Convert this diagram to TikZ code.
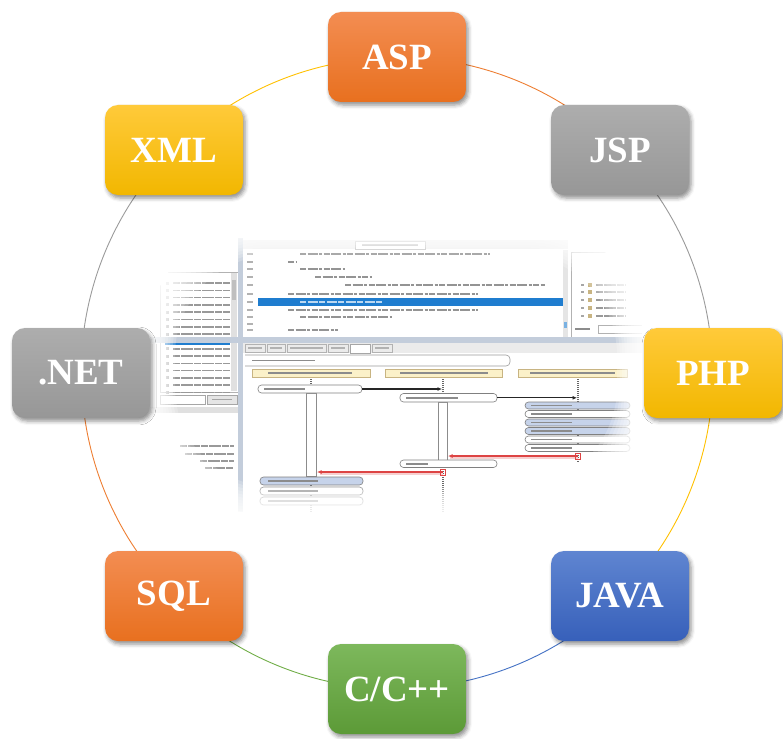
\documentclass[tikz,border=0pt]{standalone}
\usepackage{fontspec}
\setmainfont{Liberation Serif}
\usetikzlibrary{shadows,shadows.blur,arrows.meta}
\definecolor{ora1}{HTML}{F38D52}\definecolor{ora2}{HTML}{E8701F}
\definecolor{gra1}{HTML}{ADADAD}\definecolor{gra2}{HTML}{979797}
\definecolor{yel1}{HTML}{FFCA3A}\definecolor{yel2}{HTML}{F2B700}
\definecolor{blu1}{HTML}{5F85D1}\definecolor{blu2}{HTML}{3760BA}
\definecolor{grn1}{HTML}{7DB85C}\definecolor{grn2}{HTML}{5C9A37}
\definecolor{oraL}{HTML}{ED7D31}\definecolor{graL}{HTML}{9A9A9A}
\definecolor{yelL}{HTML}{FFC000}\definecolor{bluL}{HTML}{4472C4}
\definecolor{grnL}{HTML}{70AD47}
\definecolor{selblue}{HTML}{1F7DCF}
\definecolor{sepcol}{HTML}{C3CDDB}
\definecolor{hdrfill}{HTML}{FBF1C9}\definecolor{hdrdraw}{HTML}{C8B482}
\definecolor{pillblue}{HTML}{C6D3EA}
\definecolor{redarrow}{HTML}{DD4444}
\pgfdeclarelayer{bg}\pgfdeclarelayer{ringlayer}
\pgfsetlayers{bg,ringlayer,main}
\tikzset{
  langbox/.style={rounded corners=13pt, minimum width=138pt, minimum height=90pt,
    text=white, font=\fontsize{37}{40}\selectfont\bfseries,
    blur shadow={shadow xshift=2pt, shadow yshift=-3pt, shadow blur radius=4pt, shadow opacity=45}},
  orabox/.style={langbox, top color=ora1, bottom color=ora2},
  grabox/.style={langbox, top color=gra1, bottom color=gra2},
  yelbox/.style={langbox, top color=yel1, bottom color=yel2},
  blubox/.style={langbox, top color=blu1, bottom color=blu2},
  grnbox/.style={langbox, top color=grn1, bottom color=grn2},
  ring/.style={line width=0.9pt},
  codeline/.style={line width=1.7pt, black!42, dash pattern=on 6pt off 1.5pt on 10pt off 1.5pt on 3pt off 1.5pt},
  listline/.style={line width=1.6pt, black!40, dash pattern=on 7pt off 1pt on 12pt off 1pt},
  txtline/.style={line width=1.4pt, black!45},
  pill/.style={draw=black!50, fill=white, rounded corners=3.5pt, line width=0.6pt},
  pillb/.style={pill, fill=pillblue},
  hdr/.style={draw=hdrdraw, fill=hdrfill, line width=0.6pt},
  lifeline/.style={black!60, line width=1.3pt, dash pattern=on 1pt off 1pt},
  actbar/.style={draw=black!45, fill=white, line width=0.6pt},
  blackarrow/.style={black!85, line width=1.1pt, -{Latex[length=4.5pt,width=4pt]}},
  redarr/.style={redarrow, line width=1.2pt, -{Latex[length=4.5pt,width=4pt]}},
}
\begin{document}
\begin{tikzpicture}[x=1pt,y=-1pt]
\useasboundingbox (0,0) rectangle (783,738);

% ---------------- language boxes ----------------
\node[orabox] (asp)  at (397,57)  {ASP};
\node[grabox] (jsp)  at (620,150) {JSP};
\node[yelbox] (php)  at (713,373) {PHP};
\node[blubox] (java) at (620,596) {JAVA};
\node[grnbox] (cpp)  at (397,689) {C/C++};
\node[orabox] (sql)  at (174,596) {SQL};
\node[grabox] (net)  at (81,373)  {.NET};
\node[yelbox] (xml)  at (174,150) {XML};

% ---------------- ring ----------------
\begin{pgfonlayer}{ringlayer}
\draw[ring, oraL] (asp.center)  arc[start angle=90,   end angle=45,   radius=316pt];
\draw[ring, graL] (jsp.center)  arc[start angle=45,   end angle=0,    radius=316pt];
\draw[ring, yelL] (php.center)  arc[start angle=0,    end angle=-45,  radius=316pt];
\draw[ring, bluL] (java.center) arc[start angle=-45,  end angle=-90,  radius=316pt];
\draw[ring, grnL] (cpp.center)  arc[start angle=-90,  end angle=-135, radius=316pt];
\draw[ring, oraL] (sql.center)  arc[start angle=-135, end angle=-180, radius=316pt];
\draw[ring, graL] (net.center)  arc[start angle=180,  end angle=135,  radius=316pt];
\draw[ring, yelL] (xml.center)  arc[start angle=135,  end angle=90,   radius=316pt];
\end{pgfonlayer}

% ---------------- central screenshot ----------------
\begin{pgfonlayer}{bg}
\begin{scope}
\clip (150,230) rectangle (642,512);
% left file list panel
\filldraw[fill=white, draw=black!30] (160,272) rectangle (238,392);
\foreach \i in {0,...,15}{
  \fill[black!30] (166,{283+7.3*\i-1.5}) rectangle (169,{283+7.3*\i+1.5});
  \draw[listline] (173,{283+7.3*\i}) -- (230,{283+7.3*\i});
}
\fill[selblue] (165,338.5) rectangle (230,345);
\draw[line width=1.4pt, white!75!selblue, dash pattern=on 7pt off 1pt on 12pt off 1pt] (173,341.8) -- (228,341.8);
\fill[black!12] (231,273) rectangle (237,391);
\fill[black!25] (232,280) rectangle (236,300);
\draw[black!35] (160,395) rectangle (205,404);
\filldraw[fill=black!10, draw=black!35] (207,395) rectangle (237,404);
\draw[txtline, black!35] (212,399.5) -- (232,399.5);
% lower-left panel
\fill[black!12] (150,407) rectangle (240,413);
\foreach \yy/\xa in {446/180,454/185,461/200,468/205}{
  \draw[listline] (\xa,\yy) -- (234,\yy);
}
% vertical separator
\fill[sepcol] (238,238) rectangle (243,512);
% code editor
\fill[white] (243,240) rectangle (568,337);
\fill[black!7] (243,240) rectangle (568,249);
\filldraw[fill=white, draw=black!30] (355,241) rectangle (425,249);
\draw[txtline, black!30] (362,245) -- (418,245);
\foreach \yy in {254,262,269,277,285,294,302,310,317,324,330}{
  \draw[txtline, black!30] (247,\yy) -- (253,\yy);
}
\draw[codeline] (300,254) -- (490,254);
\draw[codeline] (288,262) -- (297,262);
\draw[codeline] (300,269) -- (345,269);
\draw[codeline] (315,277) -- (372,277);
\draw[codeline] (345,285) -- (545,285);
\draw[codeline] (288,294) -- (478,294);
\fill[selblue] (258,298) rectangle (565,306);
\draw[line width=1.5pt, white!70!selblue, dash pattern=on 6pt off 1.5pt on 10pt off 1.5pt] (300,302) -- (382,302);
\draw[codeline] (288,310) -- (478,310);
\draw[codeline] (300,317) -- (392,317);
\draw[codeline] (288,330) -- (338,330);
\fill[black!10] (563,250) rectangle (568,337);
\fill[selblue!60] (564,322) rectangle (567,328);
% right panel
\filldraw[fill=white, draw=black!30] (571,252) rectangle (642,337);
\foreach \yy in {285,292,300,308,316}{
  \fill[black!35] (581,{\yy-1.2}) rectangle (584,{\yy+1.2});
  \fill[hdrdraw] (588,{\yy-2}) rectangle (592,{\yy+2});
  \draw[listline] (596,\yy) -- (626,\yy);
}
\draw[txtline] (575,329) -- (590,329);
\draw[black!30] (598,325) rectangle (642,333);
% horizontal separator
\fill[sepcol] (150,337) rectangle (642,343);
% bottom panel
\fill[white] (243,343) rectangle (642,512);
\fill[black!8] (243,343) rectangle (642,353);
\foreach \xa/\xb in {245/265,267/285,287/326,328/348,372/392}{
  \draw[black!30] (\xa,344) rectangle (\xb,352);
  \draw[txtline, black!30] ({\xa+3},348) -- ({\xb-3},348);
}
\filldraw[fill=white, draw=black!35] (350,344) rectangle (370,353);
\draw[black!40, line width=0.6pt, rounded corners=4pt] (245,355) -- (510,355) -- (510,366) -- (245,366);
\draw[txtline] (252,360.5) -- (315,360.5);
% lifelines
\draw[lifeline] (311,377) -- (311,512);
\draw[lifeline] (443,377) -- (443,512);
\draw[lifeline] (578,377) -- (578,462);
% header boxes
\draw[hdr] (252,369) rectangle (370,377);
\draw[hdr] (385,369) rectangle (502,377);
\draw[hdr] (518,369) rectangle (627,377);
\draw[txtline] (268,373) -- (352,373);
\draw[txtline] (400,373) -- (488,373);
\draw[txtline] (530,373) -- (615,373);
% activation bars
\draw[actbar] (306,393) rectangle (316,476);
\draw[actbar] (438,402) rectangle (447,460);
% pills
\draw[pill] (258,385) rectangle (362,393);
\draw[txtline] (264,389) -- (305,389);
\draw[pill] (400,393.5) rectangle (497,402);
\draw[txtline] (406,397.8) -- (458,397.8);
\draw[pillb] (525,402) rectangle (630,409);
\draw[pill]  (525,410.5) rectangle (630,417.5);
\draw[pillb] (525,419) rectangle (630,426);
\draw[pillb] (525,427.5) rectangle (630,434.5);
\draw[pill]  (525,436) rectangle (630,443);
\draw[pill]  (525,444.5) rectangle (630,451.5);
\foreach \yy in {405.5,414,422.5,431,439.5,448}{
  \draw[txtline, line width=1.2pt] (531,\yy) -- (572,\yy);
}
\draw[pill] (400,460) rectangle (497,467.5);
\draw[txtline] (406,463.8) -- (428,463.8);
\draw[pillb] (260,477) rectangle (363,485);
\draw[pill]  (260,487) rectangle (363,495);
\draw[pill]  (260,497) rectangle (363,505);
\foreach \yy in {481,491,501}{
  \draw[txtline, line width=1.2pt] (268,\yy) -- (318,\yy);
}
% arrows
\draw[blackarrow] (362,389) -- (442,389);
\draw[blackarrow] (497,397.8) -- (577,397.8);
\draw[line width=2.2pt, redarrow!25] (578,457.8) -- (450,457.8);
\draw[redarr] (578,456) -- (448,456);
\draw[redarrow, line width=0.6pt] (575.5,453) rectangle (580.5,459);
\draw[line width=2.2pt, redarrow!25] (443,473.8) -- (320,473.8);
\draw[redarr] (443,472) -- (317,472);
\draw[redarrow, line width=0.6pt] (440.5,469) rectangle (445.5,475);
\end{scope}
% soft vignette
\fill[white, even odd rule] (140,220) rectangle (652,522)
  {[rounded corners=100pt] (150,230) rectangle (642,512)};
\foreach \d in {2.5,5,...,25}{
  \fill[white, opacity=0.2, even odd rule] (140,220) rectangle (652,522)
    {[rounded corners=100pt] ({150+\d},{230+\d}) rectangle ({642-\d},{512-\d})};
}
\end{pgfonlayer}
\end{tikzpicture}
\end{document}
